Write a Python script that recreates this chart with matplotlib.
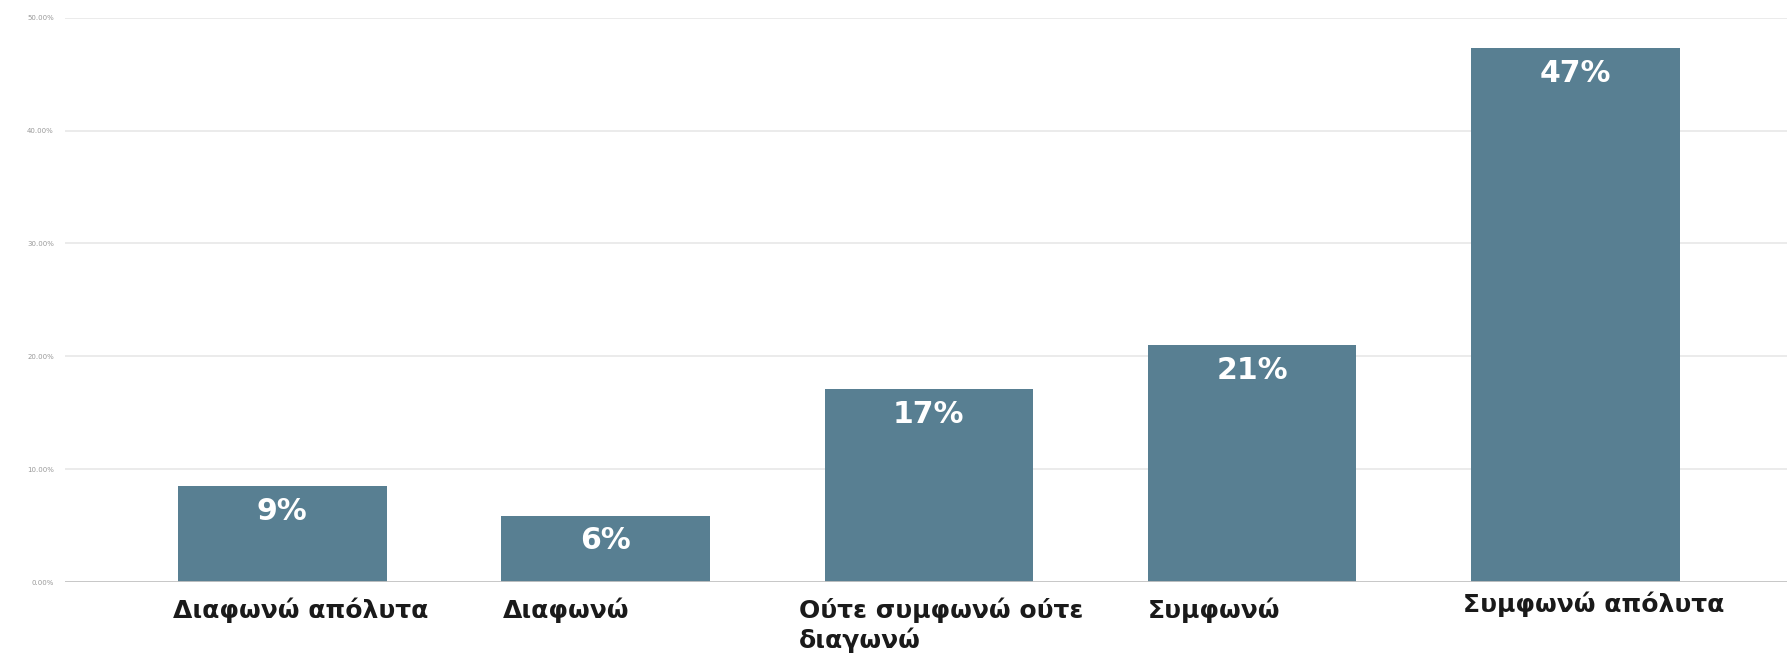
import matplotlib.pyplot as plt
import numpy as np

categories = ["Διαφωνώ απόλυτα", "Διαφωνώ", "Ούτε συμφωνώ ούτε\nδιαγωνώ", "Συμφωνώ", "Συμφωνώ απόλυτα"]
values = [8.5, 5.9, 17.1, 21.0, 47.3]
value_labels = ["9%", "6%", "17%", "21%", "47%"]
yticks = [0, 10, 20, 30, 40, 50]
ytick_labels = ["0.00%", "10.00%", "20.00%", "30.00%", "40.00%", "50.00%"]

plt.rcParams['font.family'] = ['DejaVu Sans']

fig = plt.figure(figsize=(17.87, 6.57), dpi=100)
ax = fig.add_axes([0.0364, 0.114, 0.9636, 0.859])

x = np.arange(len(categories))
width = 0.645
bars = ax.bar(x, values, width=width, color='#587f92', zorder=3)

ax.set_xlim(-0.672, 4.655)
ax.set_ylim(0, 50)
ax.set_yticks(yticks)
ax.set_yticklabels(ytick_labels, fontsize=5, color='#999999')
ax.tick_params(axis='y', length=0, pad=8)
ax.tick_params(axis='x', length=0)
ax.set_xticks([])
ax.grid(axis='y', color='#e8e8e8', linewidth=1.2, zorder=0)
for s in ax.spines.values():
    s.set_visible(False)
ax.axhline(0, color='#c4c4c4', linewidth=2, zorder=4)

# value labels inside the bars
for b, lab in zip(bars, value_labels):
    ax.annotate(lab, (b.get_x() + b.get_width() / 2, b.get_height()),
                xytext=(0, -18), textcoords='offset points', ha='center', va='center',
                color='white', fontsize=21.5, fontweight='bold', zorder=5)

# category labels, left aligned near bar edges
x_shift = [-0.015, 0.005, -0.08, 0.0, -0.025]
y_shift = [0, 0, 0, 0, 0.012]
for i, cat in enumerate(categories):
    ax.text(x[i] - width / 2 + x_shift[i], -0.028 + y_shift[i], cat,
            transform=ax.get_xaxis_transform(), ha='left', va='top',
            fontsize=18, fontweight='bold', color='#1a1a1a', linespacing=1.2)

fig.savefig("out.png", dpi=100, facecolor='white')
